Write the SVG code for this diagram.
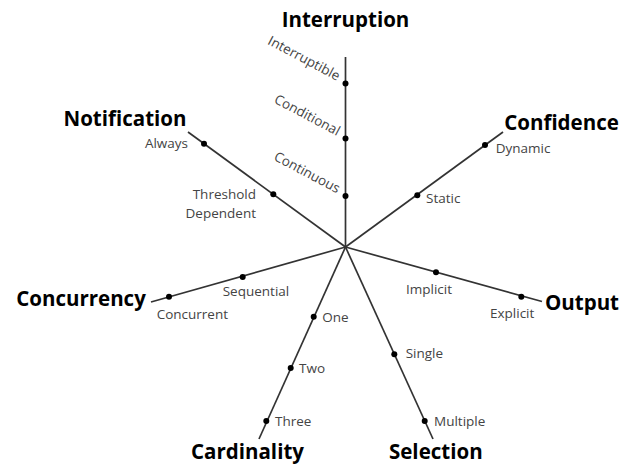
<svg xmlns="http://www.w3.org/2000/svg" width="629" height="465" viewBox="0 0 629 465">
<style>
.axis{stroke:#333;stroke-width:1.7;fill:none}
.dot{fill:#000}
.title{font-family:"Open Sans","Liberation Sans",sans-serif;font-weight:700;font-size:20.5px;fill:#000}
.lbl{font-family:"Open Sans","Liberation Sans",sans-serif;font-size:13.5px;fill:#444}
</style>
<rect width="629" height="465" fill="#fff"/>
<g id="connectors">
<line class="axis" x1="345.5" y1="247" x2="345.5" y2="57"/>
<line class="axis" x1="345.5" y1="247" x2="188" y2="132"/>
<line class="axis" x1="345.5" y1="247" x2="151" y2="302"/>
<line class="axis" x1="345.5" y1="247" x2="503" y2="132"/>
<line class="axis" x1="345.5" y1="247" x2="542" y2="301.5"/>
<line class="axis" x1="345.5" y1="247" x2="259" y2="439"/>
<line class="axis" x1="345.5" y1="247" x2="433" y2="439"/>
</g>
<g id="interruption">
<text class="title" x="345.5" y="27" text-anchor="middle">Interruption</text>
<circle class="dot" cx="345.5" cy="83.5" r="3"/>
<circle class="dot" cx="345.5" cy="138.5" r="3"/>
<circle class="dot" cx="345.5" cy="196" r="3"/>
<text class="lbl" text-anchor="end" transform="translate(337,81) rotate(28)">Interruptible</text>
<text class="lbl" text-anchor="end" transform="translate(337,136) rotate(28)">Conditional</text>
<text class="lbl" text-anchor="end" transform="translate(337,193.5) rotate(28)">Continuous</text>
</g>
<g id="notification">
<text class="title" x="125" y="126" text-anchor="middle">Notification</text>
<circle class="dot" cx="204" cy="143.7" r="3"/>
<circle class="dot" cx="273.3" cy="194.3" r="3"/>
<text class="lbl" x="188" y="147.5" text-anchor="end">Always</text>
<text class="lbl" x="256" y="199" text-anchor="end">Threshold</text>
<text class="lbl" x="256" y="217.5" text-anchor="end">Dependent</text>
</g>
<g id="concurrency">
<text class="title" x="81" y="306" text-anchor="middle">Concurrency</text>
<circle class="dot" cx="169" cy="296.7" r="3"/>
<circle class="dot" cx="242.7" cy="277" r="3"/>
<text class="lbl" x="222.7" y="295.7">Sequential</text>
<text class="lbl" x="156.7" y="319.3">Concurrent</text>
</g>
<g id="confidence">
<text class="title" x="561.5" y="129.5" text-anchor="middle">Confidence</text>
<circle class="dot" cx="485" cy="145" r="3"/>
<circle class="dot" cx="417.3" cy="195.3" r="3"/>
<text class="lbl" x="495.7" y="152.7">Dynamic</text>
<text class="lbl" x="426" y="203.3">Static</text>
</g>
<g id="output">
<text class="title" x="582" y="310" text-anchor="middle">Output</text>
<circle class="dot" cx="436" cy="272.3" r="3"/>
<circle class="dot" cx="521.3" cy="296.7" r="3"/>
<text class="lbl" x="406" y="294">Implicit</text>
<text class="lbl" x="490" y="318.3">Explicit</text>
</g>
<g id="cardinality">
<text class="title" x="247.5" y="459" text-anchor="middle">Cardinality</text>
<circle class="dot" cx="313.7" cy="316.7" r="3"/>
<circle class="dot" cx="290.7" cy="368" r="3"/>
<circle class="dot" cx="266.3" cy="421" r="3"/>
<text class="lbl" x="322.3" y="321.7">One</text>
<text class="lbl" x="299" y="373.3">Two</text>
<text class="lbl" x="275" y="426">Three</text>
</g>
<g id="selection">
<text class="title" x="435.8" y="459" text-anchor="middle">Selection</text>
<circle class="dot" cx="394.3" cy="354.3" r="3"/>
<circle class="dot" cx="424.7" cy="421" r="3"/>
<text class="lbl" x="405.7" y="358.3">Single</text>
<text class="lbl" x="434" y="425.7">Multiple</text>
</g>
</svg>
